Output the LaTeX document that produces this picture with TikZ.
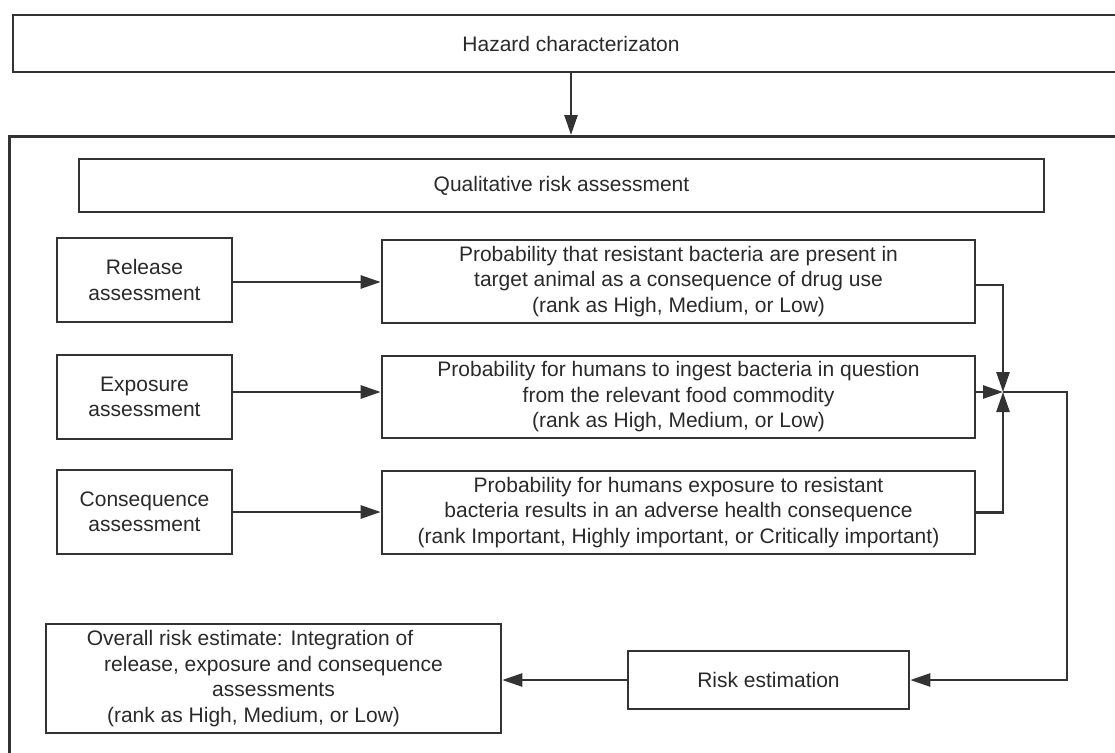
\documentclass[tikz,border=0pt]{standalone}
\usepackage{fontspec}
\setmainfont{Liberation Sans}
\usetikzlibrary{arrows.meta}
\definecolor{ink}{HTML}{333333}
\definecolor{txt}{HTML}{2A2A2A}
\tikzset{
  box/.style={draw=ink, line width=2.6pt, inner sep=0pt, text=txt, align=center,
    font=\fontsize{21}{25.5}\selectfont},
  arr/.style={draw=ink, line width=2.6pt, -{Triangle[length=20pt,width=13pt]}},
  ln/.style={draw=ink, line width=2.6pt}
}
\begin{document}
\begin{tikzpicture}[x=1pt,y=-1pt]
\useasboundingbox (0,0) rectangle (1115,752);
\fill[white] (0,0) rectangle (1115,752);
\clip (0,0) rectangle (1115,752);

\node[box, minimum width=1116pt, minimum height=57pt] (haz) at (571,43.5) {Hazard characterizaton};
\node[box, minimum width=1122pt, minimum height=640pt, anchor=north west] (outer) at (8,135) {};
\node[box, minimum width=965pt, minimum height=53pt] (qual) at (561.5,185.5) {Qualitative risk assessment};

\node[box, minimum width=175pt, minimum height=84pt] (rel) at (144.5,280) {Release\\assessment};
\node[box, minimum width=175pt, minimum height=84pt] (exp) at (144.5,397) {Exposure\\assessment};
\node[box, minimum width=175pt, minimum height=84pt] (con) at (144.5,512) {Consequence\\assessment};

\node[box, minimum width=593pt, minimum height=83pt] (p1) at (678.5,281.5) {Probability that resistant bacteria are present in\\target animal as a consequence of drug use\\(rank as High, Medium, or Low)};
\node[box, minimum width=593pt, minimum height=82pt] (p2) at (678.5,397) {Probability for humans to ingest bacteria in question\\from the relevant food commodity\\(rank as High, Medium, or Low)};
\node[box, minimum width=593pt, minimum height=83pt] (p3) at (678.5,512.5) {Probability for humans exposure to resistant\\bacteria results in an adverse health consequence\\(rank Important, Highly important, or Critically important)};

\node[box, minimum width=281pt, minimum height=58pt] (risk) at (768.5,680) {Risk estimation};
\node[box, minimum width=455pt, minimum height=109pt] (over) at (273.5,678.5) {Overall risk estimate: Integration of\hspace*{47pt}\\release, exposure and consequence\hspace*{6pt}\\assessments\hspace*{30pt}\\(rank as High, Medium, or Low)\hspace*{40pt}};

\coordinate (j) at (1003,392);
\coordinate (c) at (1067,392);

\draw[arr] (haz.south) -- (haz.south |- outer.north);
\draw[arr] ([yshift=-2pt]rel.east) -- ([yshift=-2pt]rel.east -| p1.west);
\draw[arr] ([yshift=5pt]exp.east) -- ([yshift=5pt]exp.east -| p2.west);
\draw[arr] (con.east) -- (con.east -| p3.west);

\draw[arr] ([yshift=-3.5pt]p1.east) -| (j);
\draw[arr] ([yshift=5pt]p2.east) -- (j);
\draw[arr] (p3.east) -| (j);
\draw[arr] (j) -- (c) |- (risk.east);
\draw[arr] (risk.west) -- (risk.west -| over.east);
\end{tikzpicture}
\end{document}
